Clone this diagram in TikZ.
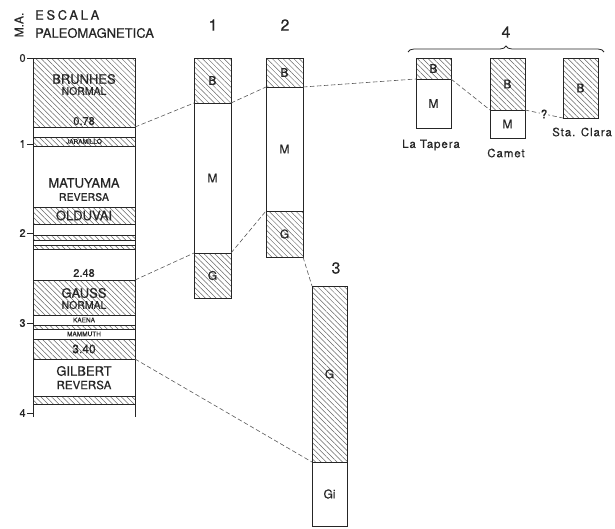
\documentclass[tikz,border=0pt]{standalone}
\usepackage{fontspec}
\setmainfont{TeX Gyre Heros}[FakeBold=0.5]
\newfontfamily\spaced{TeX Gyre Heros}[LetterSpace=20, FakeBold=0.6]
\newfontfamily\loose{TeX Gyre Heros}[LetterSpace=8, FakeBold=0.3]
\usetikzlibrary{patterns.meta,decorations.pathreplacing}

\tikzset{
  band/.style = {draw=black!85, line width=0.9pt, anchor=north west, inner sep=0pt,
                 outer sep=0pt, text=black!85, font=\fontsize{12}{14}\selectfont},
  hatch/.style = {band, pattern={Lines[angle=-45,distance=3.8pt,line width=0.5pt]},
                  pattern color=black!60},
  plain/.style = {band, fill=white},
  link/.style = {draw=black!65, line width=0.6pt, dash pattern=on 4.5pt off 2.5pt},
  lab/.style = {text=black!85, inner sep=0pt},
  big/.style = {lab, font=\fontsize{13}{15}\selectfont},
  mid/.style = {lab, font=\fontsize{10.5}{12}\selectfont},
  tiny/.style = {lab, font=\fontsize{6.5}{7}\selectfont},
  num/.style = {lab, font=\fontsize{16}{18}\selectfont},
  site/.style = {lab, font=\loose\fontsize{11.5}{13}\selectfont},
}

\begin{document}
\begin{tikzpicture}[x=1pt, y=-1pt]
	\useasboundingbox (0,0) rectangle (615,528);
	% title and age axis
	\node[lab, rotate=90, font=\fontsize{12}{13}\selectfont] (ma) at (19,25) {M.A.};
	\node[lab, anchor=west, font=\spaced\fontsize{13}{15}\selectfont] (escala) at (35,15) {ESCALA};
	\node[lab, anchor=west, font=\fontsize{13}{15}\selectfont] (paleo) at (35,33) {PALEOMAGNETICA};
	\foreach \t/\y in {0/58,1/144,2/233,3/323,4/413}
		\draw[black!85, line width=0.8pt] (27,\y) -- (33,\y) node[lab, left=7pt, font=\fontsize{11}{12}\selectfont] (age\t) {\t};
	% escala paleomagnetica
	\draw[black!85, line width=0.9pt] (33,417) -- (33,58) -- (135,58) -- (135,417);
	\node[hatch, minimum width=102pt, minimum height=69pt] (brunhes) at (33,58) {};
	\node[hatch, minimum width=102pt, minimum height=9pt, font=\fontsize{6.5}{7}\selectfont] (jaramillo) at (33,137) {JARAMILLO};
	\node[hatch, minimum width=102pt, minimum height=17pt, font=\fontsize{13}{15}\selectfont] (olduvai) at (33,207) {OLDUVAI};
	\node[hatch, minimum width=102pt, minimum height=5pt] (sub1) at (33,235) {};
	\node[hatch, minimum width=102pt, minimum height=4pt] (sub2) at (33,245) {};
	\node[hatch, minimum width=102pt, minimum height=35pt] (gauss) at (33,280) {};
	\node[hatch, minimum width=102pt, minimum height=4pt] (sub3) at (33,325) {};
	\node[hatch, minimum width=102pt, minimum height=20pt, font=\fontsize{12}{14}\selectfont] (gauss2) at (33,339) {3.40};
	\node[hatch, minimum width=102pt, minimum height=8pt] (sub4) at (33,396) {};
	\node[big] (brunhesT) at (84,79) {BRUNHES};
	\node[mid] (brunhesN) at (84,91) {NORMAL};
	\node[lab, font=\fontsize{11}{12}\selectfont] (age078) at (84,121) {0.78};
	\node[big] (matuyamaT) at (84,183) {MATUYAMA};
	\node[mid] (matuyamaR) at (84,197) {REVERSA};
	\node[lab, font=\fontsize{11}{12}\selectfont] (age248) at (84,273) {2.48};
	\node[big] (gaussT) at (84,293) {GAUSS};
	\node[mid] (gaussN) at (84,305) {NORMAL};
	\node[tiny] (kaena) at (84,320) {KAENA};
	\node[tiny] (mammuth) at (84,334) {MAMMUTH};
	\node[big] (gilbertT) at (84,371) {GILBERT};
	\node[big, font=\fontsize{11.5}{13}\selectfont] (gilbertR) at (84,385) {REVERSA};
	% columna 1
	\node[num] (n1) at (213,25) {1};
	\node[hatch, minimum width=37pt, minimum height=45pt] (c1B) at (194,58) {B};
	\node[plain, minimum width=37pt, minimum height=150pt] (c1M) at (194,103) {M};
	\node[hatch, minimum width=37pt, minimum height=45pt] (c1G) at (194,253) {G};
	% columna 2
	\node[num] (n2) at (285,25) {2};
	\node[hatch, minimum width=37pt, minimum height=29pt] (c2B) at (266,58) {B};
	\node[plain, minimum width=37pt, minimum height=124pt] (c2M) at (266,87) {M};
	\node[hatch, minimum width=37pt, minimum height=46pt] (c2G) at (266,211) {G};
	% columna 3
	\node[num] (n3) at (336,268) {3};
	\node[hatch, minimum width=35pt, minimum height=176pt] (c3G) at (312,286) {G};
	\node[plain, minimum width=35pt, minimum height=64pt] (c3Gi) at (312,462) {Gi};
	% columna 4
	\node[num] (n4) at (506,32) {4};
	\draw[black!85, line width=0.8pt, decorate, decoration={brace, amplitude=6pt}] (408,52) -- (604,52);
	\node[hatch, minimum width=35pt, minimum height=21pt] (tapB) at (416,58) {B};
	\node[plain, minimum width=35pt, minimum height=49pt] (tapM) at (416,79) {M};
	\node[site] (tapera) at (431,145) {La Tapera};
	\node[hatch, minimum width=35pt, minimum height=52pt] (cametB) at (490,58) {B};
	\node[plain, minimum width=35pt, minimum height=28pt] (cametM) at (490,110) {M};
	\node[site] (camet) at (506,153) {Camet};
	\node[hatch, minimum width=35pt, minimum height=60pt] (clara) at (563,58) {B};
	\node[site, anchor=west] (claraT) at (552,132) {Sta. Clara};
	% correlaciones
	\draw[link] (brunhes.south east) -- (c1B.south west);
	\draw[link] (c1B.south east) -- (c2B.south west);
	\draw[link] (c2B.south east) -- (tapB.south west);
	\draw[link] (tapB.south east) -- (cametB.south west);
	\draw[link] (cametB.south east) -- node[lab, fill=white, inner sep=1pt, font=\fontsize{12}{13}\selectfont] (q) {?} (clara.south west);
	\draw[link] (gauss.north east) -- (c1G.north west);
	\draw[link] (c1G.north east) -- (c2G.north west);
	\draw[link] (c2G.south east) -- (c3G.north west);
	\draw[link] (gauss2.south east) -- (c3Gi.north west);
\end{tikzpicture}
\end{document}
